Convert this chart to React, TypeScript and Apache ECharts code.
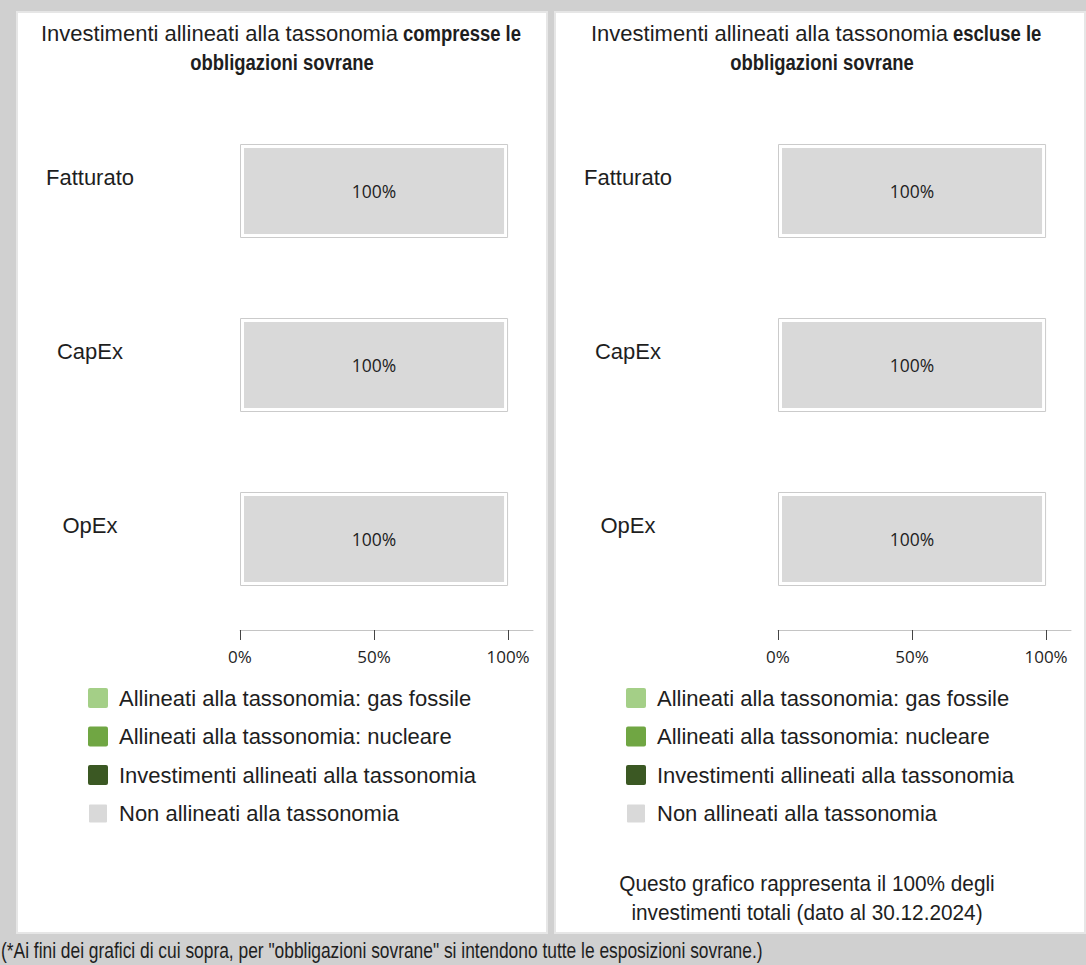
import React, { useEffect, useRef } from "react";
import * as echarts from "echarts";

const categories = ["Fatturato", "CapEx", "OpEx"];

const seriesNames = [
  "Allineati alla tassonomia: gas fossile",
  "Allineati alla tassonomia: nucleare",
  "Investimenti allineati alla tassonomia",
  "Non allineati alla tassonomia",
];
const seriesColors = ["#a4cf87", "#70a643", "#3b5823", "#d9d9d9"];

// Panel 1: including sovereign bonds
const gasFossileIncl = [0, 0, 0];
const nucleareIncl = [0, 0, 0];
const allineatiIncl = [0, 0, 0];
const nonAllineatiIncl = [100, 100, 100];

// Panel 2: excluding sovereign bonds
const gasFossileExcl = [0, 0, 0];
const nucleareExcl = [0, 0, 0];
const allineatiExcl = [0, 0, 0];
const nonAllineatiExcl = [100, 100, 100];

const xTicks = [0, 50, 100];

const SANS = "'Liberation Sans', Arial, sans-serif";
const LABEL_FONT = "'Open Sans', 'Noto Sans', sans-serif";
const TEXT = "#1e1e1e";

export default function App() {
  const ref = useRef<HTMLDivElement>(null);

  useEffect(() => {
    if (!ref.current) return;
    const chart = echarts.init(ref.current, undefined, { renderer: "svg" });

    const panels = [
      { left: 17, grid: 240, data: [gasFossileIncl, nucleareIncl, allineatiIncl, nonAllineatiIncl] },
      { left: 555, grid: 778, data: [gasFossileExcl, nucleareExcl, allineatiExcl, nonAllineatiExcl] },
    ];

    const grids: any[] = [];
    const xAxes: any[] = [];
    const yAxes: any[] = [];
    const series: any[] = [];
    const legends: any[] = [];

    panels.forEach((p, i) => {
      grids.push({ left: p.grid, top: 104, width: 293, height: 522, containLabel: false });
      xAxes.push({
        type: "value",
        gridIndex: i,
        min: 0,
        max: 109.3,
        interval: 50,
        offset: 4,
        splitLine: { show: false },
        axisLine: { show: true, lineStyle: { color: "#c4c4c4", width: 1 } },
        axisTick: { show: true, length: 10, lineStyle: { color: "#444" }, customValues: xTicks },
        axisLabel: {
          customValues: xTicks,
          formatter: (v: number) => v + "%",
          fontFamily: LABEL_FONT,
          fontSize: 17,
          color: TEXT,
          margin: 18,
        },
      });
      yAxes.push({
        type: "category",
        gridIndex: i,
        data: categories,
        inverse: true,
        axisLine: { show: false },
        axisTick: { show: false },
        axisLabel: {
          align: "center",
          verticalAlign: "bottom",
          lineHeight: 28,
          margin: 150,
          fontFamily: SANS,
          fontSize: 22,
          color: TEXT,
        },
      });
      const totals = categories.map((_, k) => p.data.reduce((s, arr) => s + arr[k], 0));
      p.data.forEach((arr, si) => {
        series.push({
          name: seriesNames[si],
          type: "bar",
          stack: "s" + i,
          xAxisIndex: i,
          yAxisIndex: i,
          barWidth: 94,
          barGap: "-100%",
          data: arr,
          itemStyle: {
            color: seriesColors[si],
            borderColor: "#ffffff",
            borderWidth: arr.some((v) => v > 0) ? 4 : 0,
          },
          label: {
            show: true,
            position: "inside",
            formatter: (prm: any) => (prm.value > 0 ? prm.value + "%" : ""),
            fontFamily: LABEL_FONT,
            fontSize: 17.5,
            color: TEXT,
          },
          z: 2,
        });
      });
      series.push({
        name: "_outline" + i,
        type: "bar",
        xAxisIndex: i,
        yAxisIndex: i,
        barWidth: 94,
        barGap: "-100%",
        data: totals,
        silent: true,
        itemStyle: { color: "rgba(0,0,0,0)", borderColor: "#cbcbcb", borderWidth: 1 },
        z: 3,
      });
      legends.push({
        data: seriesNames,
        orient: "vertical",
        left: p.left + 70,
        top: 687,
        padding: 0,
        itemWidth: 20,
        itemHeight: 20,
        itemGap: 16.5,
        icon: "path://M2,0 h16 a2,2 0 0 1 2,2 v16 a2,2 0 0 1 -2,2 h-16 a2,2 0 0 1 -2,-2 v-16 a2,2 0 0 1 2,-2 z",
        selectedMode: false,
        textStyle: { fontFamily: SANS, fontSize: 22, color: TEXT, lineHeight: 22, padding: [0, 0, 0, 6] },
      });
    });

    const txt = (text: string, x: number, y: number, align: string, opts: any = {}) => ({
      type: "text",
      x,
      y,
      scaleX: opts.scaleX ?? 1,
      style: {
        text,
        align,
        verticalAlign: opts.verticalAlign ?? "middle",
        fontFamily: SANS,
        fontSize: 22,
        fontWeight: opts.bold ? "bold" : "normal",
        lineHeight: 29,
        fill: TEXT,
      },
    });

    const BOLD_SCALE = 0.84;

    chart.setOption({
      animation: false,
      backgroundColor: "#d0d0d0",
      graphic: [
        { type: "rect", shape: { x: 17, y: 12, width: 530, height: 921 }, style: { fill: "#ffffff", stroke: "#e6e6e6", lineWidth: 2 }, z: -5 },
        { type: "rect", shape: { x: 555, y: 12, width: 530, height: 921 }, style: { fill: "#ffffff", stroke: "#e6e6e6", lineWidth: 2 }, z: -5 },
        // left title
        txt("Investimenti allineati alla tassonomia", 41, 33, "left"),
        txt("compresse le", 403, 33, "left", { bold: true, scaleX: BOLD_SCALE }),
        txt("obbligazioni sovrane", 282, 62, "center", { bold: true, scaleX: BOLD_SCALE }),
        // right title
        txt("Investimenti allineati alla tassonomia", 591, 33, "left"),
        txt("escluse le", 953, 33, "left", { bold: true, scaleX: BOLD_SCALE }),
        txt("obbligazioni sovrane", 822, 62, "center", { bold: true, scaleX: BOLD_SCALE }),
        // note
        txt("Questo grafico rappresenta il 100% degli", 807, 884, "center", { scaleX: 0.945 }),
        txt("investimenti totali (dato al 30.12.2024)", 807, 913, "center", { scaleX: 0.945 }),
        // footnote
        txt('(*Ai fini dei grafici di cui sopra, per "obbligazioni sovrane" si intendono tutte le esposizioni sovrane.)', 1, 950, "left", { scaleX: 0.79 }),
      ],
      grid: grids,
      xAxis: xAxes,
      yAxis: yAxes,
      legend: legends,
      series,
    });

    return () => chart.dispose();
  }, []);

  return <div ref={ref} style={{ position: "absolute", left: 0, top: 0, width: 1086, height: 965 }} />;
}
